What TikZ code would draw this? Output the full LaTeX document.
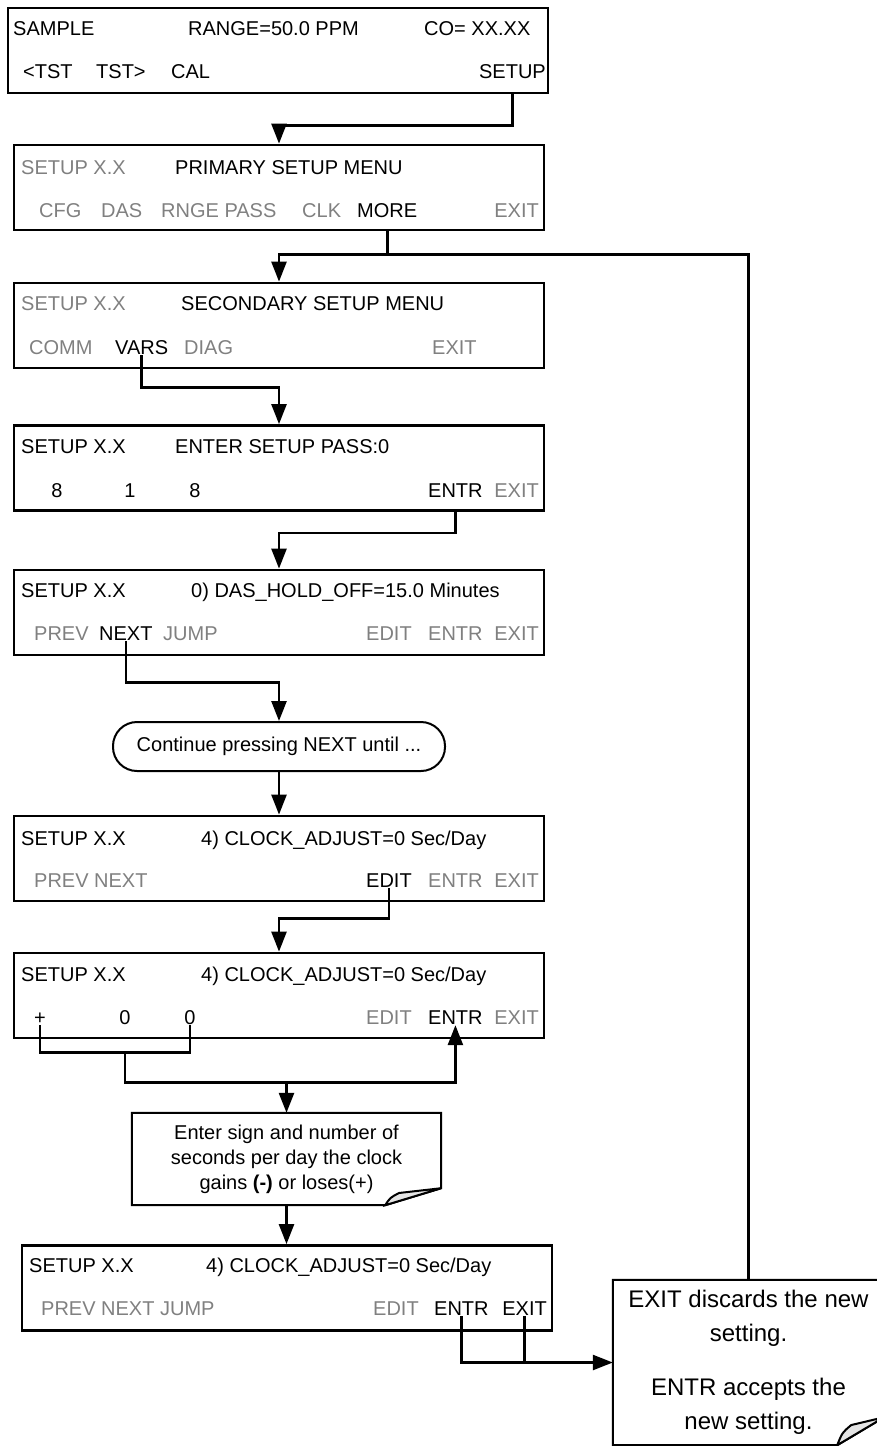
\documentclass[tikz,border=0pt]{standalone}
\usepackage{fontspec}
\setmainfont{Liberation Sans}
\usetikzlibrary{arrows.meta}
\definecolor{keygray}{HTML}{808080}
\definecolor{foldgray}{HTML}{E4E4E4}
\newcommand{\lcd}{\fontsize{20pt}{25pt}\selectfont}
\newcommand{\memofont}{\fontsize{24pt}{34pt}\selectfont}
% outline of a note with a turned-up corner
\newcommand{\dogear}[3]{%
  \draw[notebox] (#1.south west) -- (#1.north west) -- (#1.north east)
    -- ([yshift=#3]#1.south east) -- ([xshift=-#2]#1.south east) -- cycle;
  \filldraw[notebox,fill=foldgray] ([xshift=-#2]#1.south east)
    .. controls ([xshift=-#2+5pt,yshift=0.45*#3]#1.south east) .. ([xshift=-#2+14pt,yshift=0.72*#3]#1.south east)
    -- ([yshift=#3]#1.south east) -- cycle;}
\tikzset{
  screen/.style={draw,line width=2.8pt,minimum width=530pt,minimum height=85pt,inner sep=0pt},
  live/.style={font=\lcd,inner sep=1pt,anchor=base west},
  dim/.style={live,text=keygray},
  flow/.style={-{Triangle[length=20pt,width=15pt]},line width=2.6pt},
  wire/.style={line width=2.6pt},
  notebox/.style={line width=2pt},
  hint/.style={draw,rounded corners=24pt,line width=2pt,minimum width=332pt,minimum height=49pt,font=\lcd},
  memo/.style={font=\lcd,align=center,inner sep=0pt}
}

\begin{document}
\begin{tikzpicture}[x=1pt,y=-1pt]
\useasboundingbox (0,0) rectangle (877,1446);
% sample display
\node[screen,minimum width=540pt] (sample) at (278,50.5) {};
\node[live] (smp) at (12,35) {SAMPLE};
\node[live] (rng) at (187,35) {RANGE=50.0 PPM};
\node[live] (co) at (423,35) {CO= XX.XX};
\node[live] (tstl) at (22,78) {<TST};
\node[live] (tstr) at (95,78) {TST>};
\node[live] (cal) at (170,78) {CAL};
\node[live,anchor=base east] (setupkey) at (547,78) {SETUP};
% primary setup menu
\node[screen] (primary) at (279,187.5) {};
\node[dim] (p1) at (20,174) {SETUP X.X};
\node[live] (p2) at (174,174) {PRIMARY SETUP MENU};
\node[dim] (cfg) at (38,217) {CFG};
\node[dim] (das) at (100,217) {DAS};
\node[dim] (rnge) at (160,217) {RNGE PASS};
\node[dim] (clk) at (301,217) {CLK};
\node[live] (morekey) at (356,217) {MORE};
\node[dim,anchor=base east] (pexit) at (540,217) {EXIT};
% secondary setup menu
\node[screen] (secondary) at (279,325.5) {};
\node[dim] (s1) at (20,310) {SETUP X.X};
\node[live] (s2) at (180,310) {SECONDARY SETUP MENU};
\node[dim] (comm) at (28,354) {COMM};
\node[live] (varskey) at (114,354) {VARS};
\node[dim] (diag) at (183,354) {DIAG};
\node[dim] (sexit) at (431,354) {EXIT};
% password
\node[screen] (pass) at (279,468) {};
\node[live] (w1) at (20,453) {SETUP X.X};
\node[live] (w2) at (174,453) {ENTER SETUP PASS:0};
\node[live,anchor=base] (d1) at (57,497) {8};
\node[live,anchor=base] (d2) at (130,497) {1};
\node[live,anchor=base] (d3) at (195,497) {8};
\node[live] (entrkey) at (427,497) {ENTR};
\node[dim,anchor=base east] (wexit) at (540,497) {EXIT};
% first variable
\node[screen] (holdoff) at (279,612.5) {};
\node[live] (h1) at (20,597) {SETUP X.X};
\node[live] (h2) at (190,597) {0) DAS\_HOLD\_OFF=15.0 Minutes};
\node[dim] (hprev) at (33,640) {PREV};
\node[live] (nextkey) at (98,640) {NEXT};
\node[dim] (hjump) at (162,640) {JUMP};
\node[dim] (hedit) at (365,640) {EDIT};
\node[dim] (hentr) at (427,640) {ENTR};
\node[dim,anchor=base east] (hexit) at (540,640) {EXIT};
\node[hint] (cont) at (279,746.5) {Continue pressing NEXT until ...};
% clock variable
\node[screen] (clockview) at (279,858.5) {};
\node[live] (v1) at (20,845) {SETUP X.X};
\node[live] (v2) at (200,845) {4) CLOCK\_ADJUST=0 Sec/Day};
\node[dim] (vprev) at (33,887) {PREV NEXT};
\node[live] (editkey) at (365,887) {EDIT};
\node[dim] (ventr) at (427,887) {ENTR};
\node[dim,anchor=base east] (vexit) at (540,887) {EXIT};
% editing the clock
\node[screen] (clockedit) at (279,995.5) {};
\node[live] (e1) at (20,981) {SETUP X.X};
\node[live] (e2) at (200,981) {4) CLOCK\_ADJUST=0 Sec/Day};
\node[live,anchor=base] (pluskey) at (40,1024) {+};
\node[live,anchor=base] (zerokeya) at (125,1024) {0};
\node[live,anchor=base] (zerokeyb) at (190,1024) {0};
\node[dim] (eedit) at (365,1024) {EDIT};
\node[live] (entrkeyb) at (427,1024) {ENTR};
\node[dim,anchor=base east] (eexit) at (540,1024) {EXIT};
\node[memo,minimum width=309pt,minimum height=92pt] (signnote) at (286.5,1159)
  {Enter sign and number of\\seconds per day the clock\\gains {\bfseries(-)} or loses(+)};
\dogear{signnote}{56pt}{17pt}
% new value
\node[screen] (clockset) at (287,1288) {};
\node[live] (c1) at (28,1272) {SETUP X.X};
\node[live] (c2) at (205,1272) {4) CLOCK\_ADJUST=0 Sec/Day};
\node[dim] (cprev) at (40,1315) {PREV NEXT JUMP};
\node[dim] (cedit) at (372,1315) {EDIT};
\node[live] (entrkeyc) at (433,1315) {ENTR};
\node[live,anchor=base east] (exitkeyc) at (548,1315) {EXIT};
\node[memo,font=\memofont,minimum width=271pt,minimum height=165pt] (exitnote) at (748.5,1362.5)
  {EXIT discards the new\\setting.\\[20pt]ENTR accepts the\\new setting.};
\dogear{exitnote}{47pt}{28pt}
% connectors
\draw[flow] (setupkey |- sample.south) -- ++(0,31) -| (primary.north);
\draw[flow] (morekey |- primary.south) -- ++(0,23) coordinate (fork) -| (secondary.north);
\draw[wire] (fork) -| (exitnote.north);
\draw[flow] (varskey.south) -- ++(0,32) -| (pass.north);
\draw[flow] (entrkey |- pass.south) -- ++(0,21) -| (holdoff.north);
\draw[flow] (nextkey.south) -- ++(0,41) -| (cont.north);
\draw[flow] (cont.south) -- (cont.south |- clockview.north);
\draw[flow] (editkey.south) -- ++(0,30) -| (clockedit.north);
\draw[wire] (pluskey.south) -- ++(0,27) -| (zerokeyb.south);
\draw[flow] ([yshift=-27pt]zerokeya.south) -- ++(0,30) -| (entrkeyb.south);
\draw[flow] ([yshift=31pt]signnote.north) -- (signnote.north);
\draw[flow] (signnote.south) -- (signnote.south |- clockset.north);
\draw[flow] (entrkeyc.south) |- (exitnote.west);
\draw[wire] (exitkeyc.south) -- (exitkeyc.south |- exitnote.west);
\end{tikzpicture}
\end{document}
